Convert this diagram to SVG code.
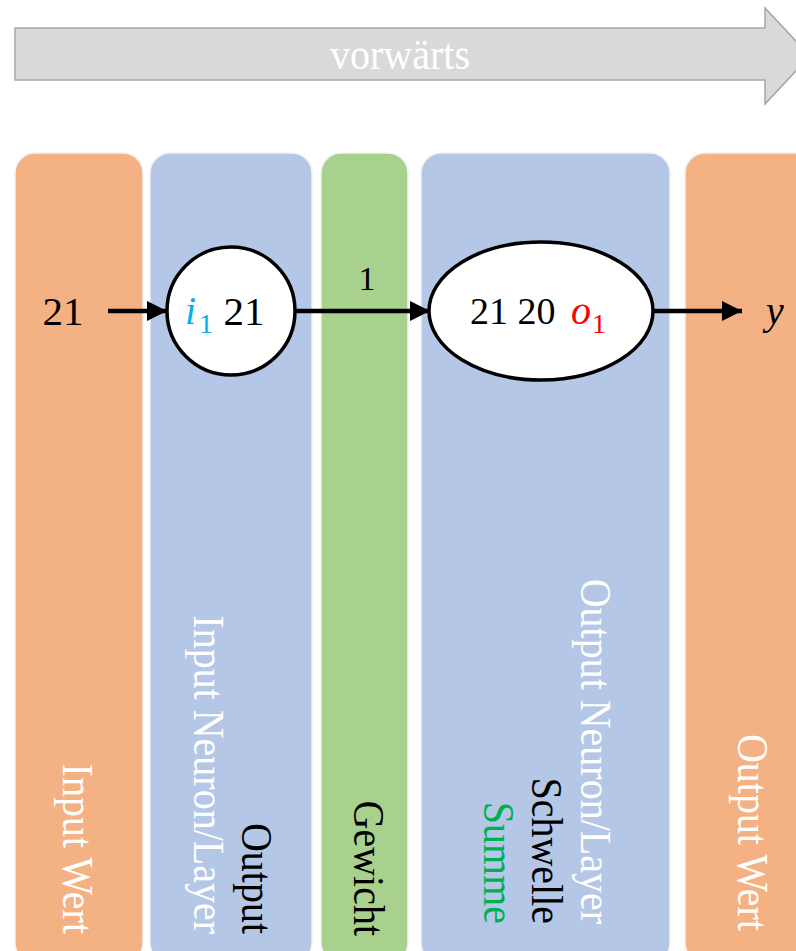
<svg xmlns="http://www.w3.org/2000/svg" width="796" height="951" viewBox="0 0 796 951">
  <style>
    .col { stroke: #f2f2f2; stroke-width: 1.5; }
    .orange { fill: #f4b183; }
    .blue { fill: #b4c7e7; }
    .green { fill: #a9d18e; }
    .lbl { font-family: "Liberation Serif", "DejaVu Serif", serif; font-size: 40px; }
    .num { font-family: "Liberation Serif", "DejaVu Serif", serif; }
    .it { font-style: italic; }
    .neuron { fill: #ffffff; stroke: #000000; stroke-width: 3.5; }
    .link { stroke: #000000; stroke-width: 4.5; fill: none; marker-end: url(#head); }
  </style>
  <defs>
    <marker id="head" markerUnits="userSpaceOnUse" markerWidth="22" markerHeight="20" refX="20" refY="10" orient="auto">
      <path d="M0,0 L20,10 L0,20 Z" fill="#000000"/>
    </marker>
  </defs>

  <!-- direction banner -->
  <g id="forward">
    <polygon points="15,28 765,28 765,8 810,56 765,104 765,80 15,80" fill="#d9d9d9" stroke="#a6a6a6" stroke-width="1.5"/>
    <text class="lbl" fill="#ffffff" text-anchor="middle" transform="translate(400,69) scale(1,1.1)">vorwärts</text>
  </g>

  <!-- layer columns; vertical labels are rotated and slightly stretched across the baseline -->
  <g id="input-value">
    <rect class="col orange" x="15" y="153" width="128" height="810" rx="20"/>
    <text class="lbl" fill="#ffffff" text-anchor="end" transform="translate(63,934) rotate(90) scale(1,1.1)">Input Wert</text>
  </g>
  <g id="input-layer">
    <rect class="col blue" x="150" y="153" width="162" height="810" rx="20"/>
    <text class="lbl" fill="#ffffff" text-anchor="end" transform="translate(194,934) rotate(90) scale(1,1.1)">Input Neuron/Layer</text>
    <text class="lbl" fill="#000000" text-anchor="end" transform="translate(242,934) rotate(90) scale(1,1.1)">Output</text>
  </g>
  <g id="weight">
    <rect class="col green" x="321" y="153" width="87" height="810" rx="20"/>
    <text class="lbl" fill="#000000" text-anchor="end" transform="translate(354,936) rotate(90) scale(1,1.1)">Gewicht</text>
    <text class="num" x="367" y="290" font-size="34" text-anchor="middle">1</text>
  </g>
  <g id="output-layer">
    <rect class="col blue" x="421" y="153" width="249" height="810" rx="20"/>
    <text class="lbl" fill="#ffffff" text-anchor="end" transform="translate(581,924) rotate(90) scale(1,1.1)">Output Neuron/Layer</text>
    <text class="lbl" fill="#000000" text-anchor="end" transform="translate(532,924) rotate(90) scale(1,1.1)">Schwelle</text>
    <text class="lbl" fill="#00b050" text-anchor="end" transform="translate(484,924) rotate(90) scale(1,1.1)">Summe</text>
  </g>
  <g id="output-value">
    <rect class="col orange" x="685" y="153" width="130" height="810" rx="20"/>
    <text class="lbl" fill="#ffffff" text-anchor="end" transform="translate(738,931) rotate(90) scale(1,1.1)">Output Wert</text>
  </g>

  <!-- connectors -->
  <g id="connectors">
    <line class="link" x1="108" y1="311" x2="167" y2="311"/>
    <line class="link" x1="295" y1="311" x2="430" y2="311"/>
    <line class="link" x1="653" y1="311" x2="742" y2="311"/>
  </g>

  <!-- neurons -->
  <g id="input-neuron">
    <circle class="neuron" cx="231" cy="311" r="64"/>
    <text class="num it" x="185" y="324" font-size="40" fill="#00b0f0">i</text>
    <text class="num" x="199" y="333" font-size="28" fill="#00b0f0">1</text>
    <text class="num" x="244" y="325" font-size="41" text-anchor="middle">21</text>
  </g>
  <g id="output-neuron">
    <ellipse class="neuron" cx="541" cy="311" rx="112" ry="69"/>
    <text class="num" x="470" y="324" font-size="38">21 20</text>
    <text class="num it" x="571" y="324" font-size="40" fill="#ff0000">o</text>
    <text class="num" x="592" y="333" font-size="28" fill="#ff0000">1</text>
  </g>
  <g id="input-number">
    <text class="num" x="63" y="325" font-size="41" text-anchor="middle">21</text>
  </g>
  <g id="output-symbol">
    <text class="num it" x="775" y="324" font-size="40" text-anchor="middle">y</text>
  </g>
</svg>
